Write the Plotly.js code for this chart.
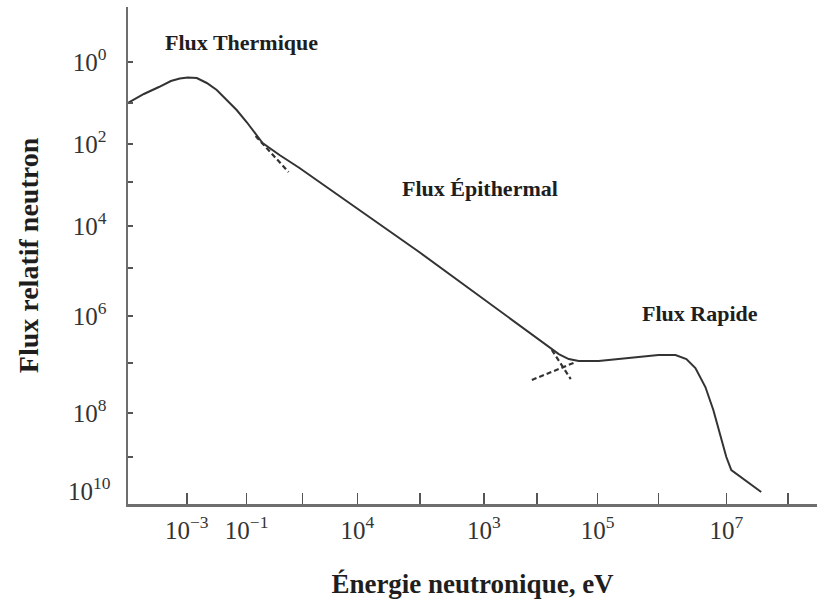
<!DOCTYPE html>
<html>
<head>
<meta charset="utf-8">
<script src="https://cdn.plot.ly/plotly-3.0.1.min.js"></script>
<style>html,body{margin:0;padding:0;background:#fff;}#chart{width:819px;height:607px;}</style>
</head>
<body>
<div id="chart"></div>
<script>
// Axis units: x = position along the energy axis (tick index scale), y = exponent position (top = 10^0)
var xLabelVals = [0, 0.995, 2.836, 4.942, 6.833, 8.972];
var xLabelText = ['10<sup>\u22123</sup>', '10<sup>\u22121</sup>', '10<sup>4</sup>', '10<sup>3</sup>', '10<sup>5</sup>', '10<sup>7</sup>'];
var xMinorVals = [1.924, 3.881, 5.821, 7.844, 10];
var yLabelVals = [0, 1.868, 3.737, 5.787, 7.997];
var yLabelText = ['10<sup>0</sup>', '10<sup>2</sup>', '10<sup>4</sup>', '10<sup>6</sup>', '10<sup>8</sup>'];
var yMinorVals = [0.934, 2.734, 4.694, 6.858, 9.0];

// Main flux curve
var fluxX = [-0.978, -0.714, -0.464, -0.265, -0.116, 0.017, 0.166, 0.332, 0.498, 0.663, 0.829, 0.995, 1.161, 1.260, 1.542, 1.874, 3.864, 6.020, 6.186, 6.352, 6.517, 6.849, 7.181, 7.512, 7.844, 8.126, 8.308, 8.458, 8.624, 8.756, 8.872, 8.972, 9.055, 9.552];
var fluxY = [0.934, 0.729, 0.570, 0.433, 0.376, 0.353, 0.365, 0.478, 0.638, 0.866, 1.094, 1.367, 1.663, 1.846, 2.119, 2.415, 4.329, 6.471, 6.653, 6.767, 6.813, 6.813, 6.767, 6.721, 6.676, 6.676, 6.767, 6.972, 7.405, 7.929, 8.498, 9.000, 9.296, 9.797];

// Dashed extrapolations
var dash1X = [1.144, 1.692];
var dash1Y = [1.686, 2.506];
var dash2X = [5.738, 6.468];
var dash2Y = [7.245, 6.835];
var dash3X = [6.070, 6.385];
var dash3Y = [6.562, 7.223];

// Region labels
var labelText = ['<b>Flux Thermique</b>', '<b>Flux \u00c9pithermal</b>', '<b>Flux Rapide</b>'];
var labelX = [0.912, 4.876, 8.541];
var labelY = [-0.433, 2.871, 5.719];

var serif = 'Liberation Serif, Times New Roman, serif';
var lineColor = '#333333';

var traces = [
  {x: fluxX, y: fluxY, mode: 'lines', line: {color: lineColor, width: 2}, hoverinfo: 'skip', showlegend: false},
  {x: dash1X, y: dash1Y, mode: 'lines', line: {color: lineColor, width: 2.2, dash: '5px,3px'}, showlegend: false},
  {x: dash2X, y: dash2Y, mode: 'lines', line: {color: lineColor, width: 2.2, dash: '5px,3px'}, showlegend: false},
  {x: dash3X, y: dash3Y, mode: 'lines', line: {color: lineColor, width: 2.2, dash: '5px,3px'}, showlegend: false}
];

var annotations = labelText.map(function (t, i) {
  return {x: labelX[i], y: labelY[i], xref: 'x', yref: 'y', text: t, showarrow: false,
          font: {family: serif, size: 22, color: '#1e1e1e'}};
});
annotations.push({x: -0.022, y: 9.729, xref: 'paper', yref: 'y', xanchor: 'right', text: '10<sup>10</sup>',
  showarrow: false, font: {family: serif, size: 25, color: '#333'}});

var layout = {
  width: 819, height: 607,
  margin: {l: 128, r: 2, t: 7, b: 103},
  paper_bgcolor: '#fff', plot_bgcolor: '#fff',
  showlegend: false,
  xaxis: {
    range: [-0.978, 10.48], showgrid: false, zeroline: false,
    showline: true, linecolor: '#6e6e6e', linewidth: 2.5,
    ticks: 'inside', ticklen: 11, tickwidth: 1.5, tickcolor: '#555',
    tickmode: 'array', tickvals: xLabelVals, ticktext: xLabelText,
    minor: {tickmode: 'array', tickvals: xMinorVals, ticks: 'inside', ticklen: 11, tickwidth: 1.5, tickcolor: '#555', showgrid: false},
    ticklabelstandoff: 2,
    tickfont: {family: serif, size: 25, color: '#333'},
    title: {text: '<b>\u00c9nergie neutronique, eV</b>', font: {family: serif, size: 27, color: '#1e1e1e'}, standoff: 32}
  },
  yaxis: {
    range: [10.07, -1.253], showgrid: false, zeroline: false,
    showline: true, linecolor: '#6e6e6e', linewidth: 2.5,
    ticks: 'inside', ticklen: 5, tickwidth: 1.5, tickcolor: '#555',
    tickmode: 'array', tickvals: yLabelVals, ticktext: yLabelText,
    minor: {tickmode: 'array', tickvals: yMinorVals, ticks: 'inside', ticklen: 5, tickwidth: 1.5, tickcolor: '#555', showgrid: false},
    ticklabelstandoff: 14,
    tickfont: {family: serif, size: 25, color: '#333'},
    title: {text: '<b>Flux relatif neutron</b>', font: {family: serif, size: 28, color: '#1e1e1e'}, standoff: 26}
  },
  annotations: annotations
};

Plotly.newPlot('chart', traces, layout, {displayModeBar: false, staticPlot: true});
</script>
</body>
</html>
